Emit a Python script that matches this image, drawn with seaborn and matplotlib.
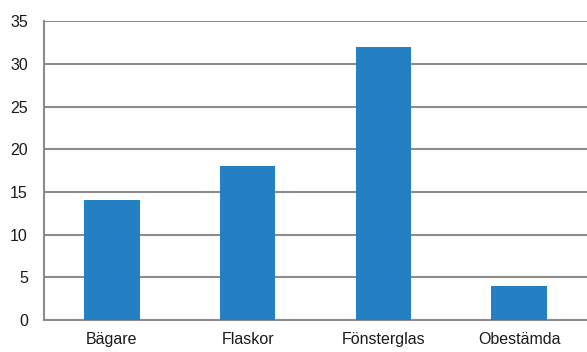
import matplotlib
matplotlib.use("Agg")
import matplotlib.pyplot as plt
import seaborn as sns
import pandas as pd

categories = ["Bägare", "Flaskor", "Fönsterglas", "Obestämda"]
counts = [14, 18, 32, 4]
y_ticks = [0, 5, 10, 15, 20, 25, 30, 35]

df = pd.DataFrame({"kategori": categories, "antal": counts})

sns.set_style("white")
plt.rcParams["font.family"] = ["Liberation Sans", "DejaVu Sans"]

grid_color = "#8c8c8c"
fig = plt.figure(figsize=(5.87, 3.52), dpi=100)
ax = fig.add_axes([0.075, 0.091, 0.925, 0.849])

sns.barplot(data=df, x="kategori", y="antal", color="#2580c3", width=0.41,
            saturation=1, ax=ax, zorder=3, edgecolor="none", linewidth=0)

ax.set_ylim(0, 35)
ax.set_xlim(-0.5, 3.5)
ax.set_yticks(y_ticks)
ax.yaxis.grid(True, color=grid_color, linewidth=1.5, zorder=0)
ax.set_axisbelow(True)
ax.set_xlabel("")
ax.set_ylabel("")

for side in ["top", "right"]:
    ax.spines[side].set_visible(False)
ax.spines["left"].set_color(grid_color)
ax.spines["left"].set_linewidth(1.5)
ax.spines["bottom"].set_color(grid_color)
ax.spines["bottom"].set_linewidth(1.5)

ax.tick_params(axis="y", length=3.6, width=1.5, color=grid_color, labelsize=11.5,
               labelcolor="#1a1a1a", pad=8)
ax.tick_params(axis="x", which="major", length=0, labelsize=11.5,
               labelcolor="#1a1a1a", pad=9)
ax.set_xticks([0.5, 1.5, 2.5], minor=True)
ax.tick_params(axis="x", which="minor", length=4.5, width=1.5, color=grid_color)

fig.savefig("out.png", dpi=100)
